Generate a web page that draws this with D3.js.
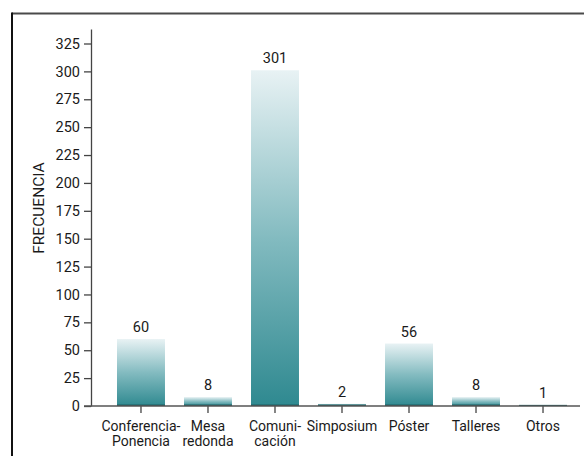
<!DOCTYPE html>
<html>
<head>
<meta charset="utf-8">
<script src="https://cdn.jsdelivr.net/npm/d3@7/dist/d3.min.js"></script>
<style>
  html, body { margin: 0; padding: 0; background: #fff; }
  svg { display: block; font-family: Roboto, "Noto Sans", sans-serif; }
</style>
</head>
<body>
<svg id="chart" width="584" height="456"></svg>
<script>
// Tipos de comunicación y su frecuencia
const categories = [
  ["Conferencia-", "Ponencia"],
  ["Mesa", "redonda"],
  ["Comuni-", "cación"],
  ["Simposium"],
  ["Póster"],
  ["Talleres"],
  ["Otros"]
];
const frequencies = [60, 8, 301, 2, 56, 8, 1];
const yTicks = [0, 25, 50, 75, 100, 125, 150, 175, 200, 225, 250, 275, 300, 325];
const yTitle = "FRECUENCIA";

const FONT = "Roboto, 'Noto Sans', sans-serif";
const svg = d3.select("#chart");
const keys = categories.map(c => c.join(" "));

const x = d3.scaleBand()
  .domain(keys)
  .range([91, 593])
  .paddingInner(0.284)
  .paddingOuter(0.388);

const y = d3.scaleLinear()
  .domain([0, 338])
  .range([406, 29]);

// Marco
svg.append("line").attr("x1", 12).attr("x2", 584).attr("y1", 13.5).attr("y2", 13.5)
  .attr("stroke", "#4a4a4a").attr("stroke-width", 2);
svg.append("line").attr("x1", 12).attr("x2", 12).attr("y1", 12.5).attr("y2", 456)
  .attr("stroke", "#111").attr("stroke-width", 2);

// Degradado de las barras
const defs = svg.append("defs");
const grad = defs.append("linearGradient")
  .attr("id", "barGrad")
  .attr("x1", 0).attr("y1", 0).attr("x2", 0).attr("y2", 1);
grad.append("stop").attr("offset", "0%").attr("stop-color", "#e8f2f4");
grad.append("stop").attr("offset", "50%").attr("stop-color", "#83bbc0");
grad.append("stop").attr("offset", "100%").attr("stop-color", "#2f8990");

// Barras
svg.append("g").selectAll("rect")
  .data(frequencies)
  .join("rect")
  .attr("x", (d, i) => x(keys[i]))
  .attr("y", d => y(d))
  .attr("width", x.bandwidth())
  .attr("height", d => y(0) - y(d))
  .attr("fill", "url(#barGrad)");

// Línea base oscura de cada barra
svg.append("g").selectAll("rect")
  .data(frequencies)
  .join("rect")
  .attr("x", (d, i) => x(keys[i]))
  .attr("y", d => Math.max(y(d), y(0) - 1.5))
  .attr("width", x.bandwidth())
  .attr("height", d => Math.min(1.5, y(0) - y(d)))
  .attr("fill", "#1f5e62");

// Etiquetas de valor
svg.append("g").selectAll("text")
  .data(frequencies)
  .join("text")
  .attr("x", (d, i) => x(keys[i]) + x.bandwidth() / 2)
  .attr("y", d => y(d) - 7)
  .attr("text-anchor", "middle")
  .attr("font-size", 14.5)
  .attr("fill", "#1a1a1a")
  .text(d => d);

// Eje Y
const yAxis = svg.append("g")
  .attr("transform", "translate(91,0)")
  .call(d3.axisLeft(y).tickValues(yTicks).tickSize(7).tickPadding(4).tickSizeOuter(0));
yAxis.select(".domain").attr("stroke", "#444").attr("stroke-width", 1.3);
yAxis.selectAll(".tick line").attr("stroke", "#444").attr("stroke-width", 1.3);
yAxis.selectAll(".tick text")
  .attr("font-size", 14.5).attr("fill", "#1a1a1a")
  .attr("font-family", FONT);

// Eje X
const xAxis = svg.append("g")
  .attr("transform", "translate(0,406)")
  .call(d3.axisBottom(x).tickSize(7).tickSizeOuter(0));
xAxis.select(".domain").remove();
xAxis.selectAll(".tick line").attr("stroke", "#444").attr("stroke-width", 1.3);
xAxis.selectAll(".tick text").remove();
xAxis.append("line")
  .attr("x1", 84).attr("x2", 580).attr("y1", 0).attr("y2", 0)
  .attr("stroke", "#555").attr("stroke-width", 1.3);

// Etiquetas de categoría (una línea de texto por renglón)
const catRows = categories.flatMap((lines, i) =>
  lines.map((t, j) => ({ t, j, cx: x(keys[i]) + x.bandwidth() / 2 })));
svg.append("g").selectAll("text")
  .data(catRows)
  .join("text")
  .attr("x", d => d.cx)
  .attr("y", d => 431 + d.j * 15)
  .attr("text-anchor", "middle")
  .attr("font-size", 14)
  .attr("fill", "#1a1a1a")
  .text(d => d.t);

// Título del eje Y
svg.append("text")
  .attr("transform", "translate(44,208) rotate(-90)")
  .attr("text-anchor", "middle")
  .attr("font-size", 15.5)
  .attr("fill", "#1a1a1a")
  .text(yTitle);
</script>
</body>
</html>
